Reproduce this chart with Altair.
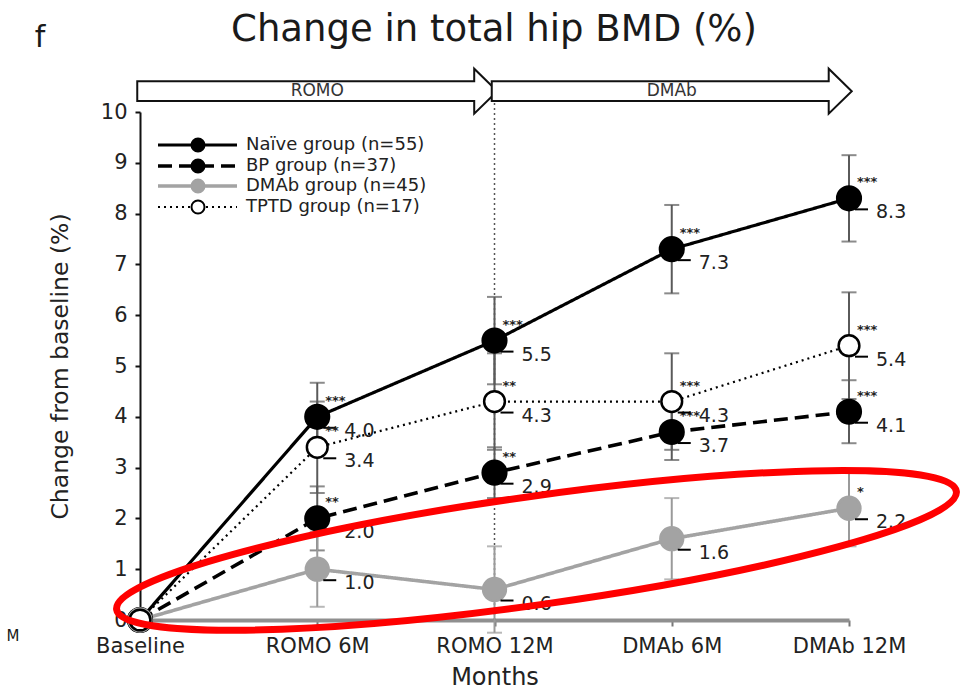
import altair as alt
import pandas as pd

# ---- data -----------------------------------------------------------------
timepoints = ["Baseline", "ROMO 6M", "ROMO 12M", "DMAb 6M", "DMAb 12M"]
y_ticks = list(range(0, 11))

group_names = ["Naïve group (n=55)", "BP group (n=37)",
               "DMAb group (n=45)", "TPTD group (n=17)"]

naive_mean = [0.0, 4.0, 5.5, 7.3, 8.3]
naive_sd = [0.0, 0.67, 0.86, 0.87, 0.85]
naive_sig = ["", "***", "***", "***", "***"]

bp_mean = [0.0, 2.0, 2.9, 3.7, 4.1]
bp_sd = [0.0, 0.63, 0.50, 0.55, 0.62]
bp_sig = ["", "**", "**", "***", "***"]

dmab_mean = [0.0, 1.0, 0.6, 1.6, 2.2]
dmab_sd = [0.0, 0.74, 0.85, 0.80, 0.75]
dmab_sig = ["", "", "", "", "*"]

tptd_mean = [0.0, 3.4, 4.3, 4.3, 5.4]
tptd_sd = [0.0, 0.90, 0.95, 0.95, 1.05]
tptd_sig = ["", "**", "**", "***", "***"]

phase_names = ["ROMO", "DMAb"]
phase_centers = ["ROMO 6M", "DMAb 6M"]
phase_level = 10.41          # height of the treatment-phase arrows (axis units)
switch_point = "ROMO 12M"    # ROMO -> DMAb switch

FONT = "DejaVu Sans"
W, H = 709, 508

# ---- shared encodings -----------------------------------------------------
x_scale = alt.Scale(type="point", domain=timepoints, padding=0)
y_scale = alt.Scale(domain=[0, 10], nice=False, zero=True)

x_axis = alt.Axis(title="Months", labelAngle=0, labelFontSize=21, titleFontSize=24,
                  labelPadding=9, titlePadding=9, domainColor="#8f8f8f",
                  domainWidth=4, tickColor="#777777", tickSize=6, tickWidth=2,
                  labelColor="#222222", titleColor="#222222",
                  titleFontWeight="normal", grid=False)
y_axis = alt.Axis(title="Change from baseline (%)", values=y_ticks, labelFontSize=21,
                  titleFontSize=23.5, labelPadding=8, titlePadding=28,
                  domainColor="#111111", domainWidth=2, tickColor="#111111",
                  tickSize=5, tickWidth=2, labelColor="#222222",
                  titleColor="#222222", titleFontWeight="normal", grid=False)


def X():
    return alt.X("time:N", scale=x_scale, axis=x_axis, sort=timepoints)


def Y(field):
    return alt.Y(f"{field}:Q", scale=y_scale, axis=y_axis)


def frame(mean, sd, sig):
    return pd.DataFrame({
        "time": timepoints,
        "value": mean,
        "lo": [m - s for m, s in zip(mean, sd)],
        "hi": [m + s for m, s in zip(mean, sd)],
        "sig": sig,
        "label": [f"{m:.1f}" for m in mean],
    })


series = [
    dict(df=frame(naive_mean, naive_sd, naive_sig), color="black", width=3.2,
         dash=[1, 0], fill="black", stroke="black", size=560, bar="#5a5a5a"),
    dict(df=frame(bp_mean, bp_sd, bp_sig), color="black", width=3.6,
         dash=[14, 7], fill="black", stroke="black", size=560, bar="#5a5a5a"),
    dict(df=frame(dmab_mean, dmab_sd, dmab_sig), color="#a3a3a3", width=3.6,
         dash=[1, 0], fill="#a3a3a3", stroke="#a3a3a3", size=520, bar="#9a9a9a"),
    dict(df=frame(tptd_mean, tptd_sd, tptd_sig), color="black", width=2.2,
         dash=[2, 4], fill="white", stroke="black", size=430, bar="#5a5a5a"),
]

layers = []

# dotted vertical line at the treatment switch
switch_df = pd.DataFrame({"time": [switch_point], "y": [0.0], "y2": [phase_level]})
layers.append(
    alt.Chart(switch_df).mark_rule(color="#555555", strokeWidth=1.5, strokeDash=[2, 3])
    .encode(x=X(), y=Y("y"), y2="y2:Q")
)

# error bars with caps
for s in series:
    d = s["df"][s["df"]["time"] != "Baseline"]
    base = alt.Chart(d)
    layers.append(base.mark_rule(color=s["bar"], strokeWidth=2)
                  .encode(x=X(), y=Y("lo"), y2="hi:Q"))
    for end in ("lo", "hi"):
        layers.append(base.mark_tick(color=s["bar"], size=15, thickness=2)
                      .encode(x=X(), y=Y(end)))

# group lines
for s in series:
    layers.append(
        alt.Chart(s["df"]).mark_line(color=s["color"], strokeWidth=s["width"],
                                     strokeDash=s["dash"])
        .encode(x=X(), y=Y("value"))
    )

# markers, leader ticks, value labels and significance stars
for s in series:
    d = s["df"]
    lab = d[d["time"] != "Baseline"]
    layers.append(
        alt.Chart(d).mark_point(shape="circle", filled=False, fill=s["fill"],
                                fillOpacity=1, stroke=s["stroke"], strokeWidth=2.5,
                                size=s["size"], opacity=1)
        .encode(x=X(), y=Y("value"))
    )
    layers.append(
        alt.Chart(lab).mark_rule(color="black", strokeWidth=2, xOffset=6, x2Offset=19,
                                 yOffset=11, y2Offset=11)
        .encode(x=X(), x2="time:N", y=Y("value"))
    )
    layers.append(
        alt.Chart(lab).mark_text(align="left", baseline="middle", dx=27, dy=14,
                                 fontSize=19, color="#222222", font=FONT)
        .encode(x=X(), y=Y("value"), text="label:N")
    )
    layers.append(
        alt.Chart(lab).mark_text(align="left", baseline="alphabetic", dx=8, dy=-12,
                                 fontSize=13, fontWeight="bold", color="#222222",
                                 font=FONT)
        .encode(x=X(), y=Y("value"), text="sig:N")
    )

# treatment-phase arrows across the top
arrow_path = ("M -1 -0.055 L 0.872 -0.055 L 0.872 -0.125 L 1 0 "
              "L 0.872 0.125 L 0.872 0.055 L -1 0.055 Z")
phase_df = pd.DataFrame({"time": phase_centers, "y": [phase_level] * 2,
                         "phase": phase_names})
layers.append(
    alt.Chart(phase_df).mark_point(shape=arrow_path, size=360 * 360, filled=False,
                                   fill="white", fillOpacity=1, stroke="#111111",
                                   strokeWidth=2, opacity=1)
    .encode(x=X(), y=Y("y"))
)
layers.append(
    alt.Chart(phase_df).mark_text(fontSize=17, color="#333333", font=FONT,
                                  baseline="middle")
    .encode(x=X(), y=Y("y"), text="phase:N")
)

# legend drawn inside the plot area
legend_rows = [33, 54, 74, 95]
for s, name, ly in zip(series, group_names, legend_rows):
    one = pd.DataFrame({"name": [name]})
    layers.append(
        alt.Chart(one).mark_rule(color=s["color"], strokeWidth=s["width"],
                                 strokeDash=s["dash"])
        .encode(x=alt.value(18), x2=alt.value(97), y=alt.value(ly))
    )
    layers.append(
        alt.Chart(one).mark_point(shape="circle", filled=False, fill=s["fill"],
                                  fillOpacity=1, stroke=s["stroke"], strokeWidth=2,
                                  size=170, opacity=1)
        .encode(x=alt.value(58), y=alt.value(ly))
    )
    layers.append(
        alt.Chart(one).mark_text(align="left", baseline="middle", fontSize=18,
                                 color="#222222", font=FONT)
        .encode(x=alt.value(106), y=alt.value(ly), text="name:N")
    )

# highlighted region around the DMAb group
ellipse_path = "M -1 0 A 1 0.128 0 1 1 1 0 A 1 0.128 0 1 1 -1 0 Z"
ellipse_df = pd.DataFrame({"time": [switch_point], "y": [1.37]})
layers.append(
    alt.Chart(ellipse_df).mark_point(shape=ellipse_path, size=848 * 848, filled=False,
                                     stroke="#ff0000", strokeWidth=7, opacity=1,
                                     angle=352, xOffset=42)
    .encode(x=X(), y=Y("y"))
)

# chart title, panel letter and stray margin mark
for txt, px, py, fs in [("Change in total hip BMD (%)", 354, -82, 37),
                        ("f", -100, -74, 30),
                        ("M", -127, 524, 15)]:
    one = pd.DataFrame({"t": [txt]})
    layers.append(
        alt.Chart(one).mark_text(fontSize=fs, color="#1a1a1a", font=FONT,
                                 baseline="middle", align="center")
        .encode(x=alt.value(px), y=alt.value(py), text="t:N")
    )

chart = (
    alt.layer(*layers)
    .properties(width=W, height=H,
                autosize=alt.AutoSizeParams(type="none"),
                padding={"left": 140, "top": 112, "right": 112, "bottom": 75})
    .configure_view(stroke=None)
    .configure_axis(labelFont=FONT, titleFont=FONT)
    .configure_text(font=FONT)
)

chart.save("out.html", embed_options={"renderer": "svg", "actions": False})
